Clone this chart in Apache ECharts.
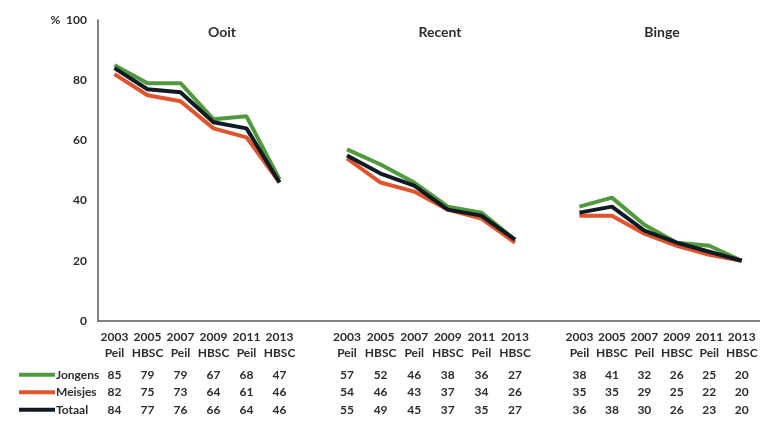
<!DOCTYPE html>
<html>
<head>
<meta charset="utf-8">
<script src="https://cdn.jsdelivr.net/npm/echarts@6/dist/echarts.min.js"></script>
<style>html,body{margin:0;padding:0;background:#fff;}#c{width:760px;height:441px;}</style>
</head>
<body>
<div id="c"></div>
<script>
var years = ['2003','2005','2007','2009','2011','2013'];
var sources = ['Peil','HBSC','Peil','HBSC','Peil','HBSC'];
var panels = ['Ooit','Recent','Binge'];
var seriesNames = ['Jongens','Meisjes','Totaal'];
var yTicks = [0,20,40,60,80,100];

var ooitJongens = [85,79,79,67,68,47];
var ooitMeisjes = [82,75,73,64,61,46];
var ooitTotaal  = [84,77,76,66,64,46];
var recentJongens = [57,52,46,38,36,27];
var recentMeisjes = [54,46,43,37,34,26];
var recentTotaal  = [55,49,45,37,35,27];
var bingeJongens = [38,41,32,26,25,20];
var bingeMeisjes = [35,35,29,25,22,20];
var bingeTotaal  = [36,38,30,26,23,20];

var panelData = [
  [ooitJongens, ooitMeisjes, ooitTotaal],
  [recentJongens, recentMeisjes, recentTotaal],
  [bingeJongens, bingeMeisjes, bingeTotaal]
];

var colors = ['#4f9a3c','#e0542e','#101a24'];
var txt = '#2e2a30';
var FONT = 'Lato';

var gridPos = [
  {left: 98, width: 198, title: 217},
  {left: 330.2, width: 201.6, title: 435},
  {left: 563.2, width: 201.6, title: 657}
];

var grids = [], xAxes = [], yAxes = [], series = [], titles = [];
gridPos.forEach(function(g, p){
  grids.push({left: g.left, width: g.width, top: 20, bottom: 120, containLabel: false});
  titles.push({text: panels[p], left: g.title, top: 20, textAlign: 'center',
    textStyle: {fontFamily: FONT, fontSize: 14, fontWeight: 'bold', color: txt}});
  var d = panelData[p];
  xAxes.push({
    type: 'category', gridIndex: p, data: years, boundaryGap: true,
    axisLine: {show: false}, axisTick: {show: false},
    axisLabel: {
      interval: 0, margin: 8,
      formatter: function(v, i){
        return '{y|' + v + '}\n{s|' + sources[i] + '}\n{g| }\n{v|' + d[0][i] + '}\n{v|' + d[1][i] + '}\n{v|' + d[2][i] + '}';
      },
      rich: {
        y: {fontFamily: FONT, fontSize: 12, fontWeight: 'bold', color: txt, lineHeight: 16},
        s: {fontFamily: FONT, fontSize: 12, fontWeight: 'bold', color: txt, lineHeight: 16},
        g: {fontSize: 2, lineHeight: 5},
        v: {fontFamily: FONT, fontSize: 12, fontWeight: 'bold', color: txt, lineHeight: 17.5}
      }
    }
  });
  yAxes.push({
    type: 'value', gridIndex: p, min: 0, max: 100, interval: 20,
    show: p === 0,
    splitLine: {show: false}, axisTick: {show: false},
    axisLine: {show: p === 0, lineStyle: {color: '#555a60', width: 1.5}},
    axisLabel: {show: p === 0, margin: 11, fontFamily: FONT, fontSize: 12, fontWeight: 'bold', color: txt,
      formatter: function(v){ return v === 100 ? '%  100' : String(v); }}
  });
  for (var s = 0; s < 3; s++) {
    series.push({
      name: seriesNames[s], type: 'line', xAxisIndex: p, yAxisIndex: p,
      data: d[s], symbol: 'none', smooth: false, color: colors[s],
      lineStyle: {width: 4, color: colors[s]}, z: 2 + s
    });
  }
});

// continuous baseline axis across panels
grids.push({left: 98, right: 0, top: 20, bottom: 120});
xAxes.push({type: 'value', gridIndex: 3, min: 0, max: 1, axisLine: {show: true, onZero: false, lineStyle: {color: '#555a60', width: 1.5}},
  axisTick: {show: false}, axisLabel: {show: false}, splitLine: {show: false}});
yAxes.push({type: 'value', gridIndex: 3, min: 0, max: 100, show: false, splitLine: {show: false}});

var chart = echarts.init(document.getElementById('c'), null, {renderer: 'canvas'});
chart.setOption({
  animation: false,
  backgroundColor: '#ffffff',
  title: titles,
  legend: {
    orient: 'vertical', left: 14, top: 361, itemGap: 0, itemWidth: 36, itemHeight: 4,
    icon: 'rect', data: seriesNames,
    textStyle: {fontFamily: FONT, fontSize: 12, fontWeight: 'bold', color: txt, lineHeight: 17.5, padding: [0,0,0,-4]}
  },
  grid: grids, xAxis: xAxes, yAxis: yAxes, series: series
});
</script>
</body>
</html>
